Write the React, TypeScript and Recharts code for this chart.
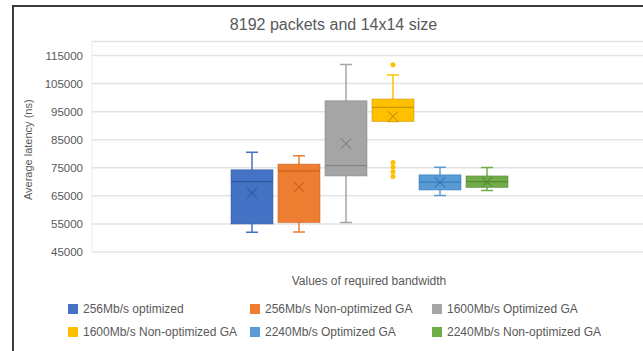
import React from "react";
import { BarChart, Bar, XAxis, YAxis, CartesianGrid, Legend } from "recharts";

const categories = [""];
const seriesNames = [
  "256Mb/s optimized",
  "256Mb/s Non-optimized GA",
  "1600Mb/s Optimized GA",
  "1600Mb/s Non-optimized GA",
  "2240Mb/s Optimized GA",
  "2240Mb/s Non-optimized GA",
];
const mins = [52000, 52100, 55500, 91500, 65100, 66900];
const q1s = [55000, 55500, 72100, 91500, 67100, 68000];
const medians = [70100, 73900, 75800, 96500, 69900, 70100];
const q3s = [74300, 76300, 98900, 99500, 72500, 72100];
const maxs = [80500, 79300, 111800, 108100, 75200, 75100];
const means = [66000, 68100, 83600, 93300, 69800, 70000];
const outliers = [[], [], [], [111700, 76900, 75300, 73600, 71900], [], []];
const yTicks = [45000, 55000, 65000, 75000, 85000, 95000, 105000, 115000];

const title = "8192 packets and 14x14 size";
const xLabel = "Values of required bandwidth";
const yLabel = "Average latency (ns)";

const colors = ["#4472C4", "#ED7D31", "#A5A5A5", "#FFC000", "#5B9BD5", "#70AD47"];
const darkColors = ["#2F5597", "#C55A11", "#7F7F7F", "#BF9000", "#2E75B6", "#548235"];

const data = categories.map((name) => {
  const row: any = { name };
  seriesNames.forEach((_, i) => {
    row["s" + i] = [q1s[i], q3s[i]];
  });
  return row;
});

const FONT = "'Liberation Sans', Arial, sans-serif";
const TXT = "#595959";

function makeShape(i: number) {
  return (props: any) => {
    const { x, y, width, height } = props;
    if (height == null || width == null) return null;
    const ppu = height / (q3s[i] - q1s[i]);
    const yOf = (v: number) => y + (q3s[i] - v) * ppu;
    const cx = x + width / 2;
    const cap = 6;
    const mx = 5;
    const my = yOf(means[i]);
    return (
      <g>
        <line x1={cx} x2={cx} y1={yOf(maxs[i])} y2={yOf(mins[i])} stroke={colors[i]} strokeWidth={1.5} />
        <line x1={cx - cap} x2={cx + cap} y1={yOf(maxs[i])} y2={yOf(maxs[i])} stroke={colors[i]} strokeWidth={1.5} />
        <line x1={cx - cap} x2={cx + cap} y1={yOf(mins[i])} y2={yOf(mins[i])} stroke={colors[i]} strokeWidth={1.5} />
        <rect x={x} y={y} width={width} height={height} fill={colors[i]} stroke={darkColors[i]} strokeWidth={1} strokeOpacity={0.5} />
        <line x1={x} x2={x + width} y1={yOf(medians[i])} y2={yOf(medians[i])} stroke={darkColors[i]} strokeWidth={1.3} strokeOpacity={0.85} />
        <line x1={cx - mx} x2={cx + mx} y1={my - mx} y2={my + mx} stroke={darkColors[i]} strokeWidth={1.1} strokeOpacity={0.85} />
        <line x1={cx - mx} x2={cx + mx} y1={my + mx} y2={my - mx} stroke={darkColors[i]} strokeWidth={1.1} strokeOpacity={0.85} />
        {outliers[i].map((v, k) => (
          <circle key={k} cx={cx} cy={yOf(v)} r={2.5} fill={colors[i]} />
        ))}
      </g>
    );
  };
}

const renderLegend = () => (
  <div
    style={{
      display: "grid",
      gridTemplateColumns: "182px 182px 182px",
      gridAutoRows: "23px",
      paddingLeft: 54,
      fontFamily: FONT,
      fontSize: 12,
      color: TXT,
    }}
  >
    {seriesNames.map((n, i) => (
      <div key={n} style={{ display: "flex", alignItems: "center", whiteSpace: "nowrap" }}>
        <span style={{ display: "inline-block", width: 10, height: 10, background: colors[i], marginRight: 5 }} />
        <span>{n}</span>
      </div>
    ))}
  </div>
);

const renderYLabel = (props: any) => {
  const vb = props.viewBox || {};
  const lx = (vb.x || 0) + 14;
  const ly = (vb.y || 0) + (vb.height || 0) / 2 + 3;
  return (
    <text
      x={lx}
      y={ly}
      transform={`rotate(-90, ${lx}, ${ly})`}
      textAnchor="middle"
      dominantBaseline="central"
      fill={TXT}
      fontSize={11}
      fontFamily={FONT}
    >
      {yLabel}
    </text>
  );
};

export default function App() {
  return (
    <div style={{ position: "fixed", inset: 0, overflow: "hidden", background: "#fff" }}>
      <div
        style={{
          position: "absolute",
          left: 12,
          top: 5,
          width: 660,
          height: 360,
          borderLeft: "2px solid #3c3c3c",
          borderTop: "2px solid #3c3c3c",
          fontFamily: FONT,
        }}
      >
        <div
          style={{
            position: "absolute",
            left: 0,
            top: 8,
            width: 639,
            textAlign: "center",
            fontSize: 16,
            lineHeight: "20px",
            color: TXT,
          }}
        >
          {title}
        </div>
        <BarChart
          width={650}
          height={360}
          data={data}
          margin={{ top: 34.5, right: 18, left: 0, bottom: 25 }}
          barSize={42}
          barGap={5}
          style={{ fontFamily: FONT }}
        >
          <CartesianGrid vertical={false} stroke="#e3e3e3" strokeWidth={1.5} />
          <XAxis
            dataKey="name"
            tick={false}
            tickLine={false}
            axisLine={false}
            height={45}
            label={{ value: xLabel, position: "insideBottom", offset: 12, fill: TXT, fontSize: 12 }}
          />
          <YAxis
            domain={[45000, 120000]}
            ticks={yTicks}
            allowDataOverflow
            width={78}
            tickLine={false}
            tickMargin={3}
            axisLine={{ stroke: "#ececec" }}
            tick={{ fill: TXT, fontSize: 11.5 }}
            label={{ content: renderYLabel }}
          />
          <Legend verticalAlign="bottom" height={45} content={renderLegend} wrapperStyle={{ left: 0, width: 650 }} />
          {seriesNames.map((n, i) => (
            <Bar key={n} dataKey={"s" + i} name={n} fill={colors[i]} isAnimationActive={false} shape={makeShape(i)} />
          ))}
        </BarChart>
      </div>
    </div>
  );
}
